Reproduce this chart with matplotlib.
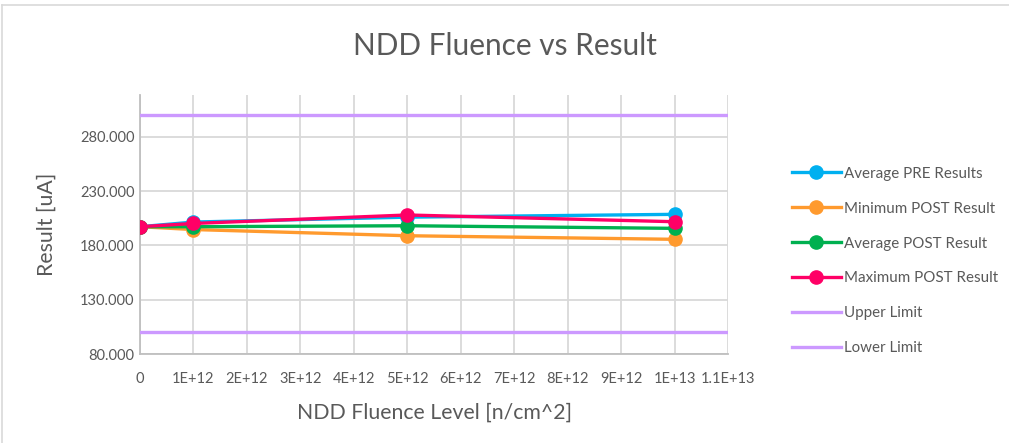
import matplotlib.pyplot as plt
from matplotlib.lines import Line2D

plt.rcParams["font.family"] = ["Lato", "DejaVu Sans"]

fluence = [0, 1e12, 5e12, 1e13]
avg_pre = [197.2, 201.5, 206.0, 208.6]
min_post = [197.2, 194.6, 188.9, 185.6]
avg_post = [197.2, 197.2, 198.1, 195.7]
max_post = [197.2, 200.2, 208.0, 201.8]

limit_x = [0, 1.1e13]
upper_limit = [300, 300]
lower_limit = [100, 100]

x_ticks = [i * 1e12 for i in range(12)]
x_labels = ["0", "1E+12", "2E+12", "3E+12", "4E+12", "5E+12",
            "6E+12", "7E+12", "8E+12", "9E+12", "1E+13", "1.1E+13"]
y_ticks = [80, 130, 180, 230, 280]
y_labels = ["80.000", "130.000", "180.000", "230.000", "280.000"]

TXT = "#595959"
GRID = "#d9d9d9"

fig = plt.figure(figsize=(10.09, 4.43), dpi=100)
ax = fig.add_axes([0.1388, 0.2009, 0.5827, 0.5847])

lw, ms = 2.4, 9.5
series = [
    ("Average PRE Results", avg_pre, "#00b0f0"),
    ("Minimum POST Result", min_post, "#ff9a2e"),
    ("Average POST Result", avg_post, "#00b050"),
    ("Maximum POST Result", max_post, "#ff0066"),
]
for name, vals, col in series:
    ax.plot(fluence, vals, color=col, lw=lw, marker="o", ms=ms,
            label=name, zorder=3)
ax.plot(limit_x, upper_limit, color="#cc99ff", lw=lw, label="Upper Limit", zorder=3)
ax.plot(limit_x, lower_limit, color="#cc99ff", lw=lw, label="Lower Limit", zorder=3)

ax.set_xlim(0, 1.1e13)
ax.set_ylim(80, 318.5)
ax.set_xticks(x_ticks)
ax.set_xticklabels(x_labels)
ax.set_yticks(y_ticks)
ax.set_yticklabels(y_labels)
ax.tick_params(length=0, labelsize=10.5, colors=TXT)
ax.tick_params(axis="x", pad=13)
ax.tick_params(axis="y", pad=4)
ax.grid(True, color=GRID, lw=1.3, zorder=0)
for s in ["top", "right"]:
    ax.spines[s].set_visible(False)
ax.spines["left"].set_color("#bfbfbf")
ax.spines["bottom"].set_color("#bfbfbf")
ax.spines["left"].set_linewidth(1.3)
ax.spines["bottom"].set_linewidth(1.3)

ax.set_xlabel("NDD Fluence Level [n/cm^2]", fontsize=15.3, color=TXT, labelpad=12)
ax.set_ylabel("Result [uA]", fontsize=15.3, color=TXT, labelpad=17)
fig.text(0.5, 1 - 46 / 443, "NDD Fluence vs Result", ha="center", va="center",
         fontsize=21.4, color=TXT)

handles, labels = ax.get_legend_handles_labels()
fig.legend(handles, labels, loc="center left", bbox_to_anchor=(0.785, 1 - 261 / 443),
           frameon=False, fontsize=10.9, labelcolor=TXT, handlelength=3.2,
           handletextpad=0.2, labelspacing=1.38, borderpad=0, borderaxespad=0)

# chart area border (left and top visible)
fig.add_artist(Line2D([2 / 1009, 2 / 1009], [0, 1 - 5 / 443], color=GRID, lw=1.2,
                      transform=fig.transFigure))
fig.add_artist(Line2D([2 / 1009, 1], [1 - 5 / 443, 1 - 5 / 443], color=GRID, lw=1.2,
                      transform=fig.transFigure))

fig.savefig("out.png", dpi=100)
